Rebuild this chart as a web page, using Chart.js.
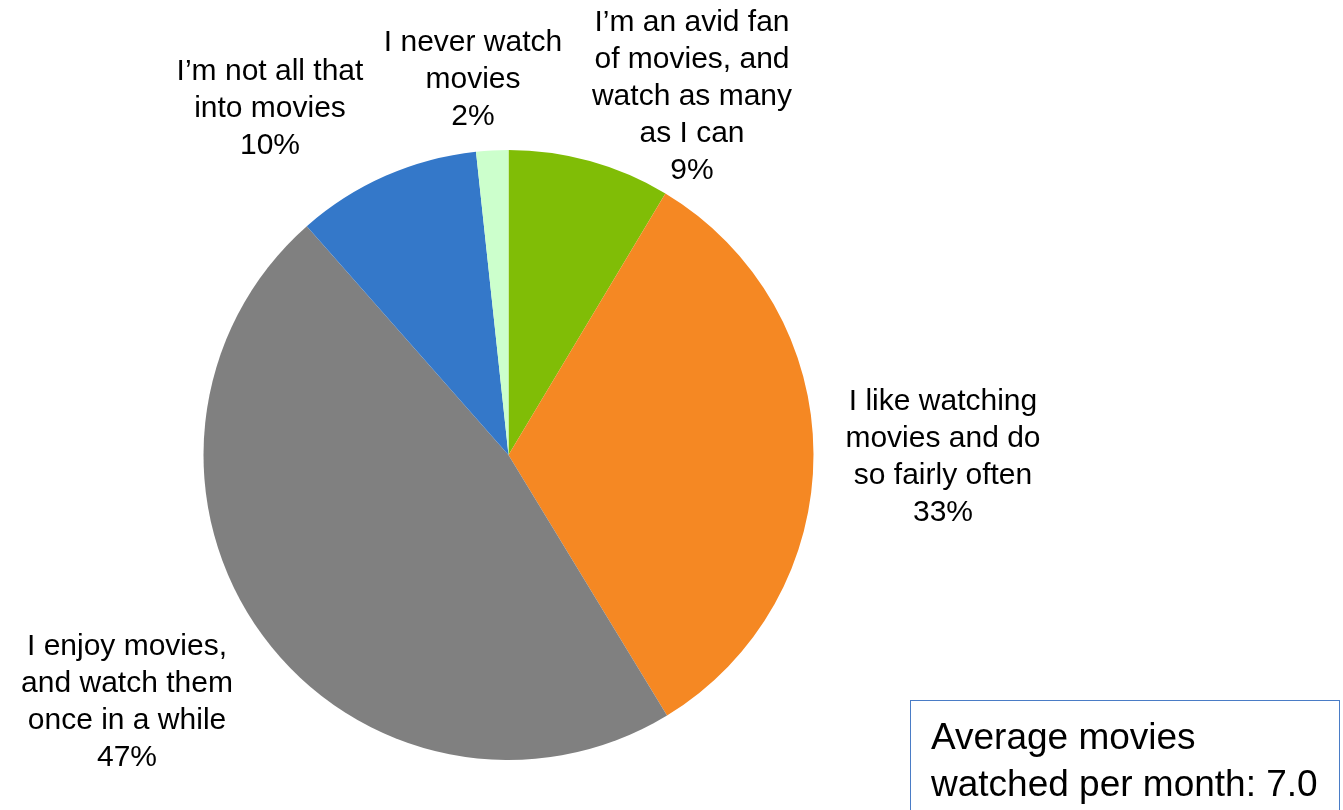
<!DOCTYPE html>
<html>
<head>
<meta charset="utf-8">
<script src="https://cdn.jsdelivr.net/npm/chart.js@4"></script>
<style>
    html, body { margin: 0; padding: 0; background: #fff; }
    #wrap { position: relative; width: 1343px; height: 810px; }
    #note {
        position: absolute; left: 910px; top: 700px; width: 430px; height: 130px;
        border: 1.5px solid #4a7cc6; box-sizing: border-box;
        font-family: "Liberation Sans", Arial, sans-serif; font-size: 37px;
        line-height: 47px; padding: 12px 0 0 20px; color: #000;
    }
</style>
</head>
<body>
<div id="wrap">
    <canvas id="pieChart" width="1343" height="810"></canvas>
    <div id="note">Average movies<br>watched per month: 7.0</div>
</div>
<script>
const categories = [
    ['I\u2019m an avid fan', 'of movies, and', 'watch as many', 'as I can'],
    ['I like watching', 'movies and do', 'so fairly often'],
    ['I enjoy movies,', 'and watch them', 'once in a while'],
    ['I\u2019m not all that', 'into movies'],
    ['I never watch', 'movies']
];
// slice sizes (labels show them rounded)
const shares = [8.6, 32.7, 47.2, 9.8, 1.7];
const sliceColors = ['#80bd06', '#f58823', '#808080', '#3478c9', '#ccffcc'];

// where each label block sits (center x, first line y)
const labelSpots = [
    { x: 692, y: 23 },
    { x: 943, y: 402 },
    { x: 127, y: 647 },
    { x: 270, y: 72 },
    { x: 473, y: 43 }
];

const outsideLabels = {
    id: 'outsideLabels',
    afterDatasetsDraw(chart) {
        const ctx = chart.ctx;
        const values = chart.data.datasets[0].data;
        ctx.save();
        ctx.font = '30px "Liberation Sans", Arial, sans-serif';
        ctx.fillStyle = '#000';
        ctx.textAlign = 'center';
        ctx.textBaseline = 'middle';
        chart.data.labels.forEach((lines, i) => {
            const spot = labelSpots[i];
            const all = [...lines, Math.round(values[i]) + '%'];
            all.forEach((line, j) => {
                ctx.fillText(line, spot.x, spot.y + j * 37);
            });
        });
        ctx.restore();
    }
};

const ctx = document.getElementById('pieChart').getContext('2d');
new Chart(ctx, {
    type: 'pie',
    data: {
        labels: categories,
        datasets: [{
            data: shares,
            backgroundColor: sliceColors,
            borderWidth: 0
        }]
    },
    options: {
        responsive: false,
        animation: false,
        layout: {
            padding: { left: 203, right: 529, top: 150, bottom: 50 }
        },
        plugins: {
            legend: { display: false },
            tooltip: { enabled: false }
        }
    },
    plugins: [outsideLabels]
});
</script>
</body>
</html>
